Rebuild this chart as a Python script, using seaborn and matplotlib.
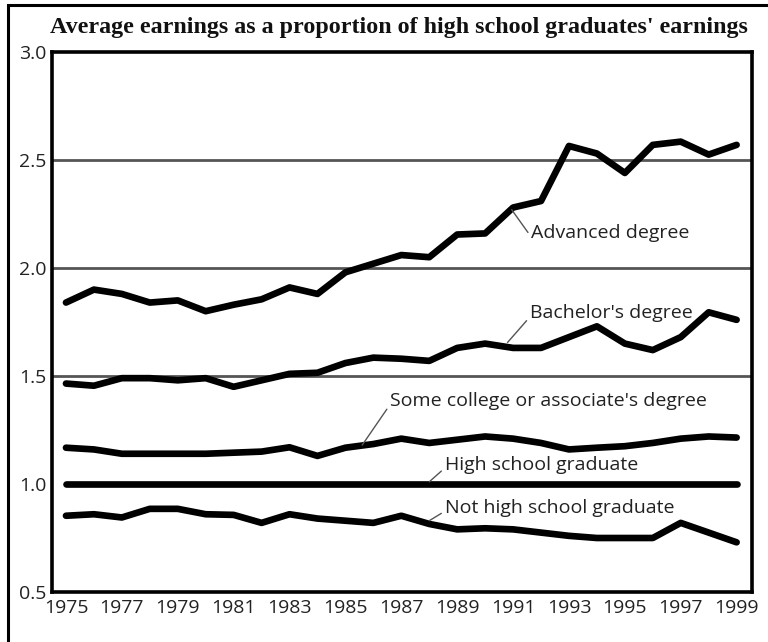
import pandas as pd
import matplotlib.pyplot as plt
import seaborn as sns
from matplotlib.patches import Rectangle

years = list(range(1975, 2000))

advanced = [1.84, 1.90, 1.88, 1.84, 1.85, 1.80, 1.83, 1.855, 1.91, 1.88,
            1.98, 2.02, 2.06, 2.05, 2.155, 2.16, 2.28, 2.31, 2.565, 2.53,
            2.44, 2.57, 2.585, 2.525, 2.57]
bachelor = [1.465, 1.455, 1.49, 1.49, 1.48, 1.49, 1.45, 1.48, 1.51, 1.515,
            1.56, 1.585, 1.58, 1.57, 1.63, 1.65, 1.63, 1.63, 1.68, 1.73,
            1.65, 1.62, 1.68, 1.795, 1.76]
some_college = [1.168, 1.16, 1.14, 1.14, 1.14, 1.14, 1.145, 1.15, 1.17, 1.13,
                1.168, 1.185, 1.21, 1.19, 1.205, 1.22, 1.21, 1.19, 1.16, 1.168,
                1.175, 1.19, 1.21, 1.22, 1.215]
hs_grad = [1.0] * 25
not_hs = [0.853, 0.86, 0.845, 0.885, 0.885, 0.86, 0.857, 0.82, 0.86, 0.84,
          0.83, 0.82, 0.853, 0.815, 0.79, 0.795, 0.79, 0.775, 0.76, 0.75,
          0.75, 0.75, 0.82, 0.775, 0.73]

groups = ["Advanced degree", "Bachelor's degree",
          "Some college or associate's degree", "High school graduate",
          "Not high school graduate"]
series = [advanced, bachelor, some_college, hs_grad, not_hs]

rows = []
for g, vals in zip(groups, series):
    for y, v in zip(years, vals):
        rows.append({"Year": y, "Ratio": v, "Group": g})
df = pd.DataFrame(rows)

sns.set_style("white")
plt.rcParams['font.family'] = ['Open Sans', 'DejaVu Sans']

fig = plt.figure(figsize=(7.68, 6.42), dpi=100)
ax = fig.add_axes([52 / 768, 1 - 592 / 642, 700 / 768, 540 / 642])

# frame around the whole picture (left and top edges visible)
fig.patches.append(Rectangle((8 / 768, -0.05), 1.2, 1 - 5 / 642 + 0.05,
                             transform=fig.transFigure, fill=False,
                             edgecolor="black", linewidth=2.2))

for gy in [1.5, 2.0, 2.5]:
    ax.axhline(gy, color="#555555", linewidth=2.0, zorder=1)

sns.lineplot(data=df, x="Year", y="Ratio", hue="Group", palette=["black"] * 5,
             linewidth=4.8, legend=False, ax=ax, zorder=3)

ax.set_xlim(1974.5, 1999.55)
ax.set_ylim(0.5, 3.0)
ax.set_xticks(years)
ax.set_xticklabels([str(y) if (y - 1975) % 2 == 0 else "" for y in years],
                   fontsize=14, color="#222222")
ax.set_yticks([0.5, 1.0, 1.5, 2.0, 2.5, 3.0])
ax.set_yticklabels(["0.5", "1.0", "1.5", "2.0", "2.5", "3.0"],
                   fontsize=14, color="#222222")
ax.tick_params(axis="x", direction="in", length=9, width=1.6, pad=5)
ax.tick_params(axis="y", direction="in", length=0, pad=4)
ax.set_xlabel("")
ax.set_ylabel("")
for s in ax.spines.values():
    s.set_visible(True)
    s.set_color("black")
    s.set_linewidth(2.6)

labels = [
    ("Advanced degree", (1990.95, 2.27), (1991.65, 2.16)),
    ("Bachelor's degree", (1990.8, 1.655), (1991.6, 1.79)),
    ("Some college or associate's degree", (1985.6, 1.18), (1986.6, 1.385)),
    ("High school graduate", (1988.0, 1.01), (1988.55, 1.09)),
    ("Not high school graduate", (1988.0, 0.83), (1988.55, 0.89)),
]
for text, xy, xytext in labels:
    ax.annotate(text, xy=xy, xytext=xytext, fontsize=14, color="#222222",
                ha="left", va="center",
                arrowprops=dict(arrowstyle="-", color="#555555", lw=1.0,
                                shrinkA=0, shrinkB=0, relpos=(0, 0.3)))

fig.text(0.52, 1 - 28 / 642,
         "Average earnings as a proportion of high school graduates' earnings",
         ha="center", va="center", fontsize=17.3, fontweight="bold",
         family="Liberation Serif", color="#111111")

fig.savefig("out.png", dpi=100)
